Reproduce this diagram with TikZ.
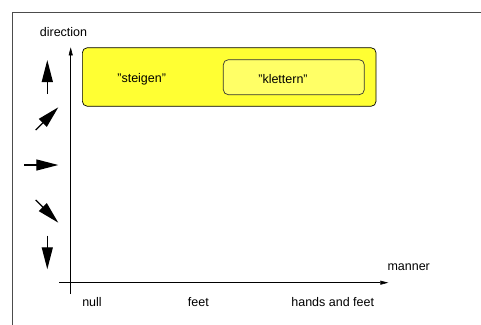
\documentclass[tikz,border=0pt]{standalone}
\usepackage{fontspec}
\setmainfont{Liberation Sans}
\usetikzlibrary{positioning,calc,arrows.meta}

\begin{document}
\begin{tikzpicture}[
            x=1pt, y=-1pt,
            outerbox/.style={draw=black, rounded corners=5pt, fill={rgb,255:red,255;green,255;blue,51}, line width=0.7pt, minimum width=293.7pt, minimum height=58.6pt},
            innerbox/.style={draw=black!80, rounded corners=5pt, fill={rgb,255:red,255;green,255;blue,102}, line width=0.7pt, minimum width=141pt, minimum height=35pt},
            axis/.style={line width=0.6pt, -{Triangle[length=8pt, width=4pt]}},
            dirarrow/.style={line width=1.3pt, -{Triangle[length=22pt, width=11pt]}},
            lbl/.style={font=\fontsize{12.5}{14}\selectfont, inner sep=0pt}
        ]
        \useasboundingbox (0,0) rectangle (481,324);

        % Frame around the chart
        \draw[black!70, line width=0.8pt] (12,330) -- (12,12.3) -- (490,12.3);

        % Axes
        \coordinate (ybot) at (70.7,294);
        \coordinate (ytop) at (70.7,47.3);
        \coordinate (xleft) at (59,282.7);
        \coordinate (xright) at (388.3,282.7);
        \draw[axis] (ybot) -- (ytop);
        \draw[axis] (xleft) -- (xright);

        \node[lbl] (direction) at (63.5,32) {direction};
        \node[lbl] (manner) at (408.7,267) {manner};

        % Values along the manner axis
        \node[lbl] (null) at (92,301.7) {null};
        \node[lbl] (feet) at (198.3,301.7) {feet};
        \node[lbl] (handsfeet) at (332.7,301.7) {hands and feet};

        % Direction arrows next to the vertical axis
        \foreach \name/\ax/\ay/\bx/\by in {up/47.3/94/47.3/60, upright/35.7/130/58.3/107.3,
                right/24/165/58.3/165, downright/35.7/200/58.3/222.7, down/47.3/235.7/47.3/269.3} {
            \coordinate (\name-a) at (\ax,\ay);
            \coordinate (\name-b) at (\bx,\by);
            \draw[dirarrow] (\name-a) -- (\name-b);
        }

        % Verb regions
        \node[outerbox] (steigen) at (229.2,77) {};
        \node[lbl] at ($(steigen.west) + (59.7,2)$) {"steigen"};

        \node[innerbox] (klettern) at (293.8,77.2) {};
        \node[lbl] at ($(klettern.center) + (-10.8,1.8)$) {"klettern"};

        \end{tikzpicture}
\end{document}
